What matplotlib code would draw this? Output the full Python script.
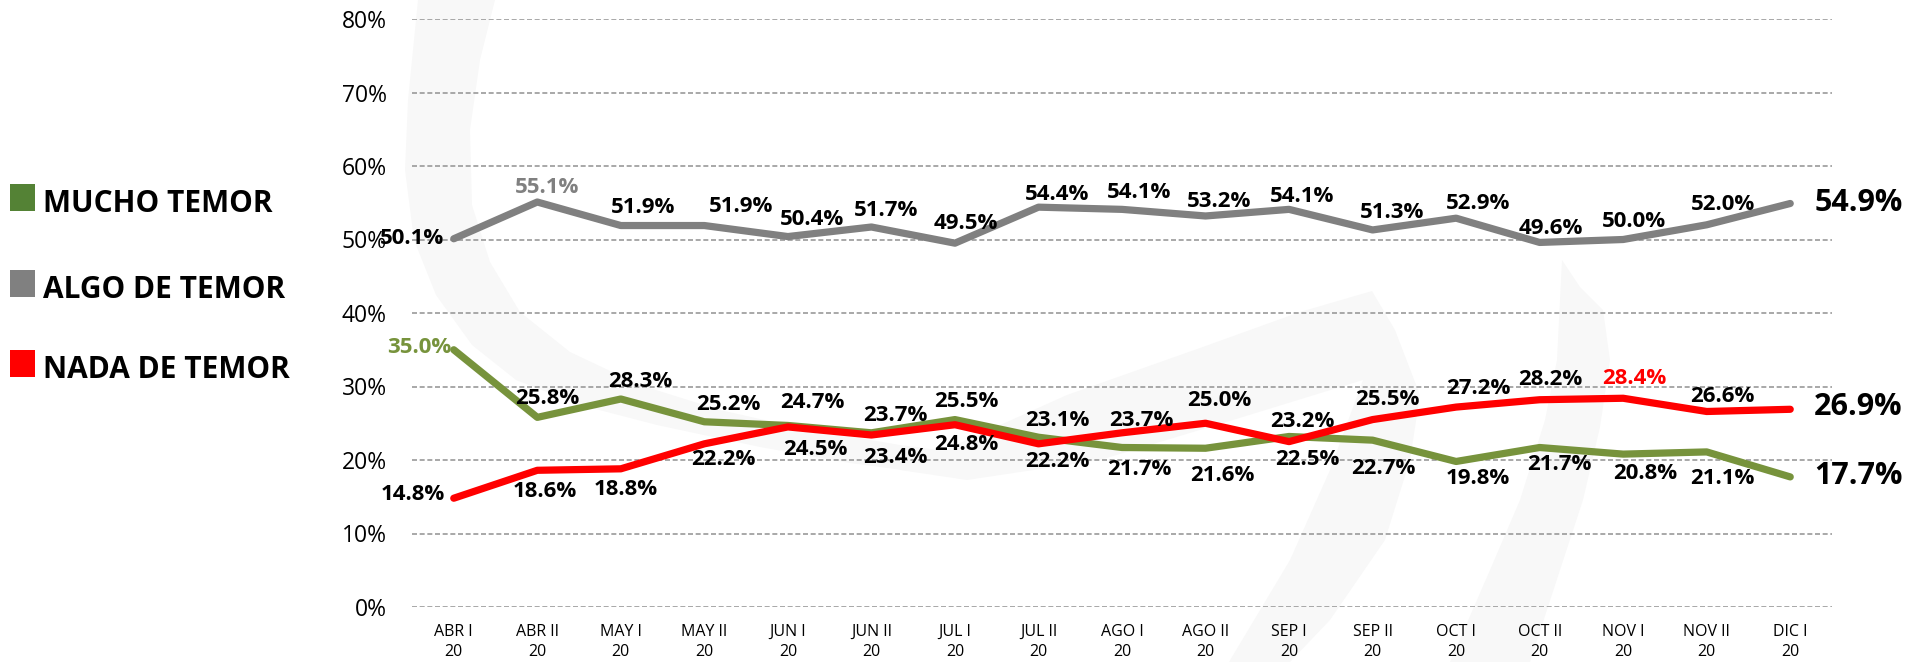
import matplotlib
matplotlib.use("Agg")
import matplotlib.pyplot as plt
from matplotlib.patches import Polygon, Rectangle

plt.rcParams['font.family'] = ['Open Sans', 'DejaVu Sans']

# data
periods = ["ABR I", "ABR II", "MAY I", "MAY II", "JUN I", "JUN II", "JUL I", "JUL II",
           "AGO I", "AGO II", "SEP I", "SEP II", "OCT I", "OCT II", "NOV I", "NOV II", "DIC I"]
year = "20"
mucho = [35.0, 25.8, 28.3, 25.2, 24.7, 23.7, 25.5, 23.1, 21.7, 21.6, 23.2, 22.7, 19.8, 21.7, 20.8, 21.1, 17.7]
algo = [50.1, 55.1, 51.9, 51.9, 50.4, 51.7, 49.5, 54.4, 54.1, 53.2, 54.1, 51.3, 52.9, 49.6, 50.0, 52.0, 54.9]
nada = [14.8, 18.6, 18.8, 22.2, 24.5, 23.4, 24.8, 22.2, 23.7, 25.0, 22.5, 25.5, 27.2, 28.2, 28.4, 26.6, 26.9]
series_names = ["MUCHO TEMOR", "ALGO DE TEMOR", "NADA DE TEMOR"]

GREEN = "#77933C"
GREEN_KEY = "#548235"
GRAY = "#808080"
RED = "#FF0000"

# label offsets in pixels (dx, dy with y downward)
off_algo = [(-10, 0), (10, -15), (22, -18), (37, -19), (24, -17), (15, -17), (11, -20), (19, -13),
            (17, -17), (14, -14), (13, -13), (19, -17), (22, -15), (11, -14), (11, -18), (16, -20), (24, 0)]
off_mucho = [(-2, -2), (10, -19), (19, -17), (24, -17), (24, -23), (24, -17), (11, -18), (19, -17),
             (17, 22), (17, 27), (13, -15), (11, 28), (22, 17), (20, 17), (22, 19), (16, 27), (24, -1)]
off_nada = [(-9, -4), (8, 21), (5, 21), (19, 16), (27, 23), (24, 22), (11, 20), (19, 18),
            (19, -12), (14, -23), (18, 18), (15, -20), (22, -19), (11, -20), (11, -20), (16, -15), (24, -2)]

W, H = 1928, 662
fig = plt.figure(figsize=(W / 100, H / 100), dpi=100)


def fx(px):
    return px / W


def fy(py):
    return 1 - py / H


# faint watermark logo in the background
wm = "#f8f8f8"
shape_a = [(418, 0), (408, 100), (405, 170), (414, 240), (436, 295), (472, 345), (516, 380), (580, 405),
           (657, 425), (760, 447), (850, 463), (925, 473), (1000, 472), (1000, 458), (900, 445), (800, 428),
           (720, 410), (640, 385), (570, 352), (520, 312), (490, 262), (472, 205), (470, 130), (480, 60), (495, 0)]
shape_b = [(900, 470), (1067, 395), (1200, 348), (1300, 312), (1372, 291), (1395, 330), (1420, 395),
           (1410, 460), (1385, 540), (1330, 620), (1290, 662), (1229, 662), (1290, 560), (1330, 470),
           (1363, 380), (1233, 420), (1100, 460), (967, 480)]
shape_c = [(1562, 260), (1580, 287), (1603, 310), (1610, 360), (1600, 427), (1583, 500), (1560, 570),
           (1530, 662), (1450, 662), (1490, 570), (1520, 500), (1545, 420), (1557, 360)]
for shp in [shape_a, shape_b, shape_c]:
    fig.add_artist(Polygon([(fx(x), fy(y)) for x, y in shp], closed=True,
                           transform=fig.transFigure, facecolor=wm, edgecolor="none", zorder=-5))

ax = fig.add_axes([fx(412), 1 - 607 / H, 1420 / W, 588 / H])
ax.set_facecolor("none")

x = list(range(len(periods)))
for vals, col in [(mucho, GREEN), (algo, GRAY), (nada, RED)]:
    ax.plot(x, vals, color=col, lw=5.2, solid_capstyle="round", solid_joinstyle="round", zorder=3)

ax.set_xlim(-0.5, len(periods) - 0.5)
ax.set_ylim(0, 80)
ax.set_yticks(range(0, 81, 10))
ax.set_yticklabels([f"{v}%" for v in range(0, 81, 10)], fontsize=16.5)
ax.set_xticks(x)
ax.set_xticklabels([f"{p}\n{year}" for p in periods], fontsize=11.5, linespacing=1.4)
ax.tick_params(axis="y", length=0, pad=18)
ax.tick_params(axis="x", length=0, pad=12)
ax.grid(axis="y", color="#9a9a9a", lw=1.2, linestyle=(0, (3, 1.6)))
ax.set_axisbelow(True)
for s in ax.spines.values():
    s.set_visible(False)


def add_labels(vals, offs, special_idx=None, special_color=None):
    last = len(vals) - 1
    for i, (v, (dx, dy)) in enumerate(zip(vals, offs)):
        col = special_color if i == special_idx else "black"
        if i == 0:
            ha = "right"
        elif i == last:
            ha = "left"
        else:
            ha = "center"
        size = 22 if i == last else 16
        ax.annotate(f"{v:.1f}%", (i, v), xytext=(dx, -dy), textcoords="offset pixels",
                    ha=ha, va="center", fontsize=size, fontweight="bold", color=col, zorder=5)


add_labels(algo, off_algo, 1, GRAY)
add_labels(mucho, off_mucho, 0, GREEN)
add_labels(nada, off_nada, 14, RED)

# legend on the left
key_colors = [GREEN_KEY, GRAY, RED]
key_tops = [184, 270, 350]
for name, col, top in zip(series_names, key_colors, key_tops):
    fig.add_artist(Rectangle((fx(10), fy(top + 27)), 25 / W, 27 / H, transform=fig.transFigure,
                             facecolor=col, edgecolor="none"))
    fig.text(fx(43), fy(top + 27.5), name, fontsize=21.5, fontweight="bold", ha="left", va="baseline")

fig.savefig("out.png", dpi=100)
